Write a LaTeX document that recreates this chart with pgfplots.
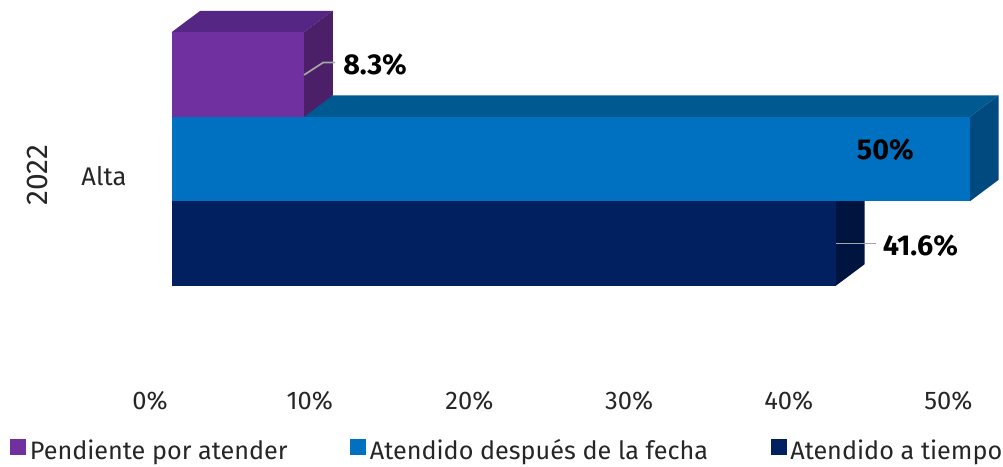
\documentclass[border=0pt]{standalone}
\usepackage{pgfplots}
\pgfplotsset{compat=1.18}
\usepackage{fontspec}
\setmainfont{Fira Sans}
\definecolor{pf}{HTML}{7030A0}\definecolor{pt}{HTML}{562684}\definecolor{ps}{HTML}{4C2068}
\definecolor{bf}{HTML}{0070C0}\definecolor{bt}{HTML}{005A92}\definecolor{bs}{HTML}{004A80}
\definecolor{nf}{HTML}{002060}\definecolor{nt}{HTML}{001A50}\definecolor{ns}{HTML}{001440}
\begin{document}
\begin{tikzpicture}
\useasboundingbox (0,0) rectangle (1003pt,466pt);
\begin{axis}[
  at={(0,0)},anchor=south west,
  scale only axis,width=1003pt,height=466pt,
  xmin=-10.74,xmax=52.07,ymin=-3.633,ymax=1.882,
  axis line style={draw=none},clip=false,
  xtick={0,10,20,30,40,50},
  xticklabels={0\%,10\%,20\%,30\%,40\%,50\%},
  ytick={-0.2},yticklabels={Alta},
  tick style={draw=none},
  tick label style={font=\fontsize{25.5}{28}\selectfont\color{black!85}},
  x tick label style={anchor=center,xshift=-21.5pt,yshift=65pt},
  y tick label style={anchor=east,xshift=130pt},
  ylabel={2022},
  ylabel style={at={(axis description cs:0.037,0.624)},anchor=center,rotate=0,font=\fontsize{30}{32}\selectfont\color{black!85}},
  legend columns=3,
  legend style={at={(axis description cs:0.01,0.006)},anchor=south west,draw=none,fill=none,inner sep=0pt,
    font=\fontsize{25.2}{28}\selectfont\color{black!85},
    /tikz/every even column/.append style={column sep=60.5pt}},
  legend image code/.code={\fill[#1] (0pt,-4pt) rectangle (15pt,11pt);\path[draw=none,fill=none] (0pt,0pt) -- (17.5pt,0pt);},
]
\addlegendimage{pf}\addlegendentry{Pendiente por atender}
\addlegendimage{bf}\addlegendentry{Atendido después de la fecha}
\addlegendimage{nf}\addlegendentry{Atendido a tiempo}
% navy
\addplot[forget plot,fill=nt,draw=none] coordinates {(0,-0.5) (1.8,-0.2456) (43.4,-0.2456) (41.6,-0.5)} -- cycle;
\addplot[forget plot,fill=ns,draw=none] coordinates {(41.6,-0.5) (43.4,-0.2456) (43.4,-1.2456) (41.6,-1.5)} -- cycle;
\addplot[forget plot,xbar,bar width=84.5pt,bar shift=0pt,fill=nf,draw=none] coordinates {(41.6,-1)};
% blue
\addplot[forget plot,fill=bt,draw=none] coordinates {(0,0.5) (1.8,0.7544) (51.8,0.7544) (50,0.5)} -- cycle;
\addplot[forget plot,fill=bs,draw=none] coordinates {(50,0.5) (51.8,0.7544) (51.8,-0.2456) (50,-0.5)} -- cycle;
\addplot[forget plot,xbar,bar width=84.5pt,bar shift=0pt,fill=bf,draw=none] coordinates {(50,0)};
% purple
\addplot[forget plot,fill=pt,draw=none] coordinates {(0,1.5) (1.8,1.7544) (10.1,1.7544) (8.3,1.5)} -- cycle;
\addplot[forget plot,fill=ps,draw=none] coordinates {(8.3,1.5) (10.1,1.7544) (10.1,0.7544) (8.3,0.5)} -- cycle;
\addplot[forget plot,xbar,bar width=84.5pt,bar shift=0pt,fill=pf,draw=none] coordinates {(8.3,1)};
% leaders
\addplot[forget plot,draw=black!35,line width=1.7pt] coordinates {(8.3,0.995) (9.5,1.142) (10.25,1.142)};
\addplot[forget plot,draw=black!35,line width=1.7pt] coordinates {(41.6,-1) (44.1,-1)};
\node[font=\fontsize{28.7}{30}\selectfont\bfseries,text=black] at (axis cs:12.75,1.11) {8.3\%};
\node[font=\fontsize{28.7}{30}\selectfont\bfseries,text=black] at (axis cs:44.7,0.105) {50\%};
\node[font=\fontsize{28.7}{30}\selectfont\bfseries,text=black] at (axis cs:46.9,-1.03) {41.6\%};
\end{axis}
\end{tikzpicture}
\end{document}
